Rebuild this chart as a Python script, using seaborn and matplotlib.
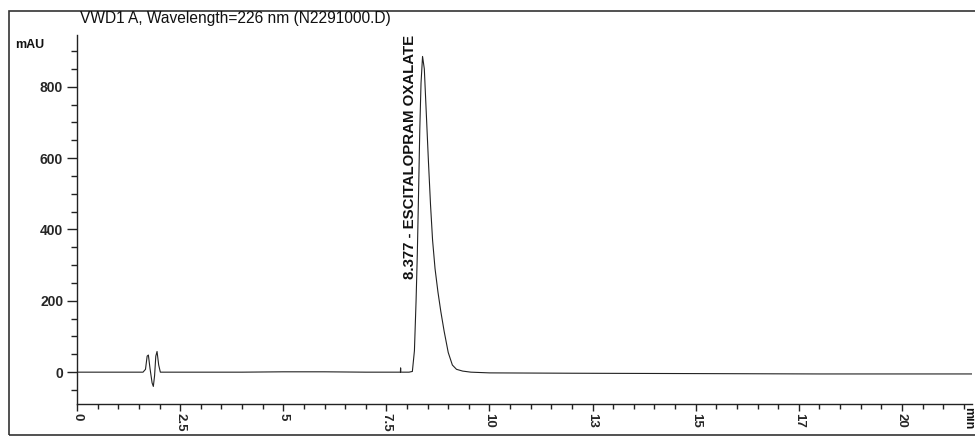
import matplotlib
matplotlib.use("Agg")
import matplotlib.pyplot as plt
import matplotlib.patches as mpatches
from matplotlib.ticker import MultipleLocator, FixedLocator
import seaborn as sns

# retention time (min) and detector signal (mAU)
time_min = [0.0, 1.60, 1.66, 1.70, 1.73, 1.77, 1.82, 1.85, 1.88, 1.91, 1.94, 1.98, 2.02,
            3.0, 4.0, 5.0, 5.5, 6.0, 7.0, 7.84, 7.845, 7.85, 8.05, 8.13, 8.18, 8.22,
            8.25, 8.28, 8.31, 8.34, 8.377, 8.42, 8.47, 8.52, 8.57, 8.62, 8.68, 8.75,
            8.82, 8.90, 9.00, 9.10, 9.20, 9.35, 9.55, 10.0, 12.0, 15.0, 18.0, 21.7]
signal_mau = [0, 0, 8, 45, 48, 10, -30, -40, -10, 45, 58, 20, 0,
              0, 0, 1, 1, 1, 0, 0, 12, 0, 0, 2, 60, 200,
              330, 500, 680, 810, 885, 850, 720, 590, 470, 370, 290, 225,
              170, 115, 55, 20, 8, 3, 0, -2, -3, -4, -5, -5]

xtick_pos = [0, 2.5, 5, 7.5, 10, 12.5, 15, 17.5, 20]
xtick_labels = ["0", "2.5", "5", "7.5", "10", "13", "15", "17", "20"]
ytick_pos = [0, 200, 400, 600, 800]

peak_time = 8.377
peak_name = "ESCITALOPRAM OXALATE"

sns.set_theme(style="ticks")
plt.rcParams["font.family"] = ["Liberation Sans", "DejaVu Sans"]

fig = plt.figure(figsize=(9.75, 4.38), dpi=100)
ax = fig.add_axes([0.079, 0.077, 0.918, 0.843])

sns.lineplot(x=time_min, y=signal_mau, color="#222222", linewidth=0.8, ax=ax)

ax.set_xlim(0, 21.7)
ax.set_ylim(-90, 945)
ax.xaxis.set_major_locator(FixedLocator(xtick_pos))
ax.set_xticklabels(xtick_labels, rotation=-90, fontweight="bold", fontsize=9.5)
ax.xaxis.set_minor_locator(MultipleLocator(0.5))
ax.yaxis.set_major_locator(FixedLocator(ytick_pos))
ax.set_yticklabels([str(v) for v in ytick_pos], fontweight="bold", fontsize=10)
ax.yaxis.set_minor_locator(MultipleLocator(50))
ax.tick_params(axis="y", which="major", length=7, width=1, color="#222222", pad=3)
ax.tick_params(axis="y", which="minor", length=4, width=1, color="#222222")
ax.tick_params(axis="x", which="major", length=5, width=1, color="#222222", pad=1)
ax.tick_params(axis="x", which="minor", length=3.5, width=1, color="#222222")
ax.spines["top"].set_visible(False)
ax.spines["right"].set_visible(False)
for s in ["left", "bottom"]:
    ax.spines[s].set_color("#222222")
    ax.spines[s].set_linewidth(1)
ax.set_xlabel("")
ax.set_ylabel("")

ax.text(peak_time - 0.3, 262, f"{peak_time} - {peak_name}", rotation=90,
        ha="center", va="bottom", fontsize=10.8, fontweight="bold", color="#111111")

fig.text(0.082, 0.957, "VWD1 A, Wavelength=226 nm (N2291000.D)", fontsize=11.2,
         ha="left", va="center", color="#111111")
fig.text(0.016, 0.898, "mAU", fontsize=9, ha="left", va="center",
         fontweight="bold", color="#111111")
fig.text(0.993, 0.045, "min", fontsize=9, rotation=-90, ha="center", va="center",
         fontweight="bold", color="#111111")

frame = mpatches.Rectangle((0.009, 0.006), 1.2, 0.969, transform=fig.transFigure,
                           fill=False, edgecolor="#333333", linewidth=1.2)
fig.patches.append(frame)

fig.savefig("out.png", dpi=100)
